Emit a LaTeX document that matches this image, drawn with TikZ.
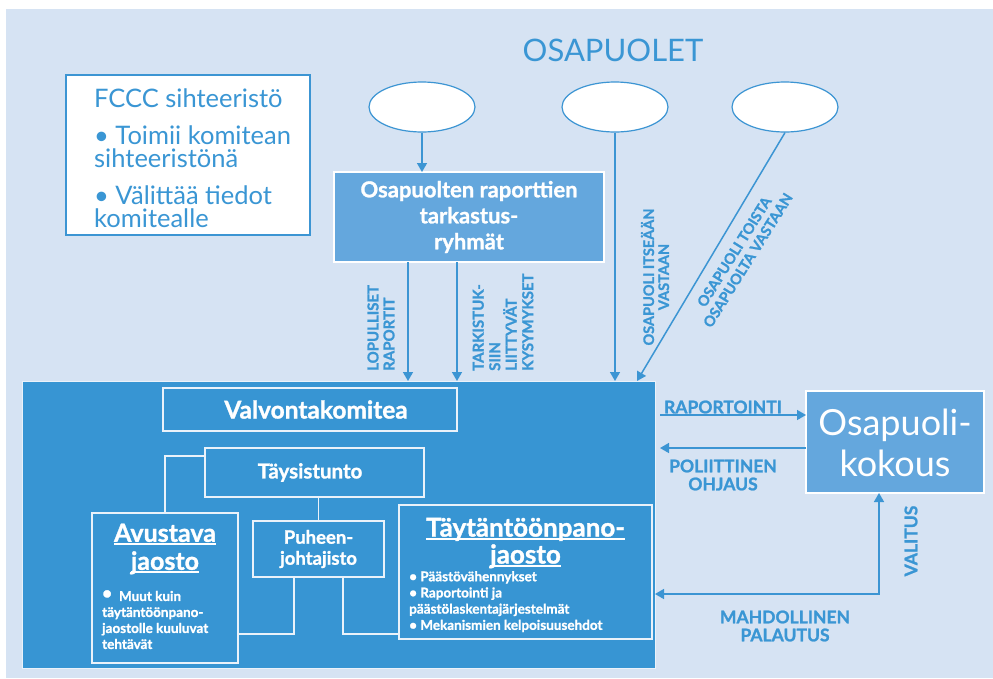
\documentclass[tikz,border=0pt]{standalone}
\usepackage{fontspec}
\setmainfont{Lato}[BoldFeatures={FakeBold=1.2}]
\usetikzlibrary{arrows.meta,shapes.geometric}
\definecolor{bgblue}{HTML}{D6E3F3}
\definecolor{deepblue}{HTML}{3795D3}
\definecolor{midblue}{HTML}{64A7DD}
\definecolor{inkblue}{HTML}{3A96D4}
\definecolor{lineblue}{HTML}{3C95D3}
\definecolor{paleline}{HTML}{EAF2FA}
% underline with a heavier rule
\newcommand\ulbox[1]{\setbox0\hbox{#1}\rlap{\rule[-3pt]{\wd0}{1.5pt}}\box0}
\newcommand\fs[2]{\fontsize{#1}{#2}\selectfont}
\begin{document}
\begin{tikzpicture}[x=1pt,y=-1pt,
  conn/.style={draw=lineblue, line width=1.5pt},
  arr/.style={conn, -{Triangle[length=9pt,width=10pt]}},
  darr/.style={conn, {Triangle[length=9pt,width=10pt]}-{Triangle[length=9pt,width=10pt]}},
  wline/.style={draw=paleline, line width=1.2pt},
  lbl/.style={text=inkblue, font=\bfseries\fs{15}{16}, inner sep=0pt},
  innerbox/.style={draw=paleline, line width=1.2pt, fill=deepblue, inner sep=0pt, outer sep=0pt},
  litebox/.style={draw=white, line width=1.2pt, fill=midblue, inner sep=0pt, outer sep=0pt},
  party/.style={ellipse, draw=lineblue, line width=1.2pt, fill=white, minimum width=106pt, minimum height=50pt, inner sep=0pt},
  wtext/.style={text=white, inner sep=0pt, align=center}
]
\useasboundingbox (0,0) rectangle (993,678);
\fill[bgblue] (6,9) rectangle (993,678);

% secretariat box
\node[draw=lineblue, line width=1.2pt, fill=white, minimum width=244pt, minimum height=160pt, inner sep=0pt] (fccc) at (188,155) {};
\node[text=inkblue, anchor=north west, align=left, inner sep=0pt, font=\fs{25.5}{23}] (fccctxt) at (94,89)
  {FCCC sihteeristö\\[14pt]• Toimii komitean\\sihteeristönä\\[14pt]• Välittää tiedot\\komitealle};

% parties
\node[text=inkblue, font=\fs{31}{31}, inner sep=0pt] (osap) at (613,50) {OSAPUOLET};
\node[party] (e1) at (422,107) {};
\node[party] (e2) at (615,107) {};
\node[party] (e3) at (785,107) {};

% review teams
\node[litebox, minimum width=270pt, minimum height=90pt] (tark) at (469,217) {};
\node[wtext, font=\bfseries\fs{22}{26}] (tarktxt) at (469,217) {Osapuolten raporttien\\tarkastus-\\ryhmät};

% compliance committee
\node[draw=paleline, line width=1pt, fill=deepblue, minimum width=633pt, minimum height=287pt, inner sep=0pt, outer sep=0pt] (big) at (338.5,524.5) {};
\node[innerbox, minimum width=294pt, minimum height=43pt] (valv) at (310,409.5) {};
\node[wtext, font=\bfseries\fs{24.5}{24}] (valvtxt) at (316,409.5) {Valvontakomitea};
\node[innerbox, minimum width=219pt, minimum height=49pt] (tays) at (314.5,472.5) {};
\node[wtext, font=\bfseries\fs{20.5}{20}] (taystxt) at (310,472.5) {Täysistunto};
\node[innerbox, minimum width=146pt, minimum height=150pt] (avus) at (165,588) {};
\node[wtext, font=\bfseries\fs{25}{28}] (avustit) at (165,549) {\ulbox{Avustava}\\\ulbox{jaosto}};
\node[text=white, anchor=north west, align=left, inner sep=0pt, font=\bfseries\fs{13.5}{16}] (avustxt) at (102,590)
  {\raisebox{2pt}{\fs{17}{17}•}\hspace{7pt}Muut kuin\\täytäntöönpano-\\jaostolle kuuluvat\\tehtävät};
\node[innerbox, minimum width=131pt, minimum height=56pt] (puh) at (318.5,549) {};
\node[wtext, font=\bfseries\fs{18.5}{21}] (puhtxt) at (318.5,549) {Puheen-\\johtajisto};
\node[innerbox, minimum width=253pt, minimum height=134pt] (taet) at (525.5,572) {};
\node[wtext, font=\bfseries\fs{26}{27}] (taettit) at (525.5,543) {\ulbox{Täytäntöönpano-}\\\ulbox{jaosto}};
\node[text=white, anchor=north west, align=left, inner sep=0pt, font=\bfseries\fs{13.5}{16.2}] (taettxt) at (409,571)
  {• Päästövähennykset\\• Raportointi ja\\päästölaskentajärjestelmät\\• Mekanismien kelpoisuusehdot};

% conference of the parties
\node[litebox, minimum width=178pt, minimum height=102pt] (kok) at (895,442) {};
\node[wtext, font=\fs{36}{41}] (koktxt) at (895,443) {Osapuoli-\\kokous};

% internal links
\coordinate (tl) at (165,456);
\coordinate (pl) at (294,634);
\coordinate (pr) at (343,634);
\draw[wline] (tays.west |- tl) -- (tl) -- (avus.north -| tl);
\draw[wline] (puh.north |- tays.south) -- (puh.north);
\draw[wline] (puh.south -| pl) -- (pl) -- (pl -| avus.east);
\draw[wline] (puh.south -| pr) -- (pr) -- (pr -| taet.west);

% reporting flows
\coordinate (xl) at (408,0);
\coordinate (xr) at (457,0);
\coordinate (diagend) at (637,381);
\draw[arr] (e1.south) -- (e1.south |- tark.north);
\draw[arr] (tark.south -| xl) -- (big.north -| xl);
\draw[arr] (tark.south -| xr) -- (big.north -| xr);
\draw[arr] (e2.south) -- (e2.south |- big.north);
\draw[arr] (e3.south) -- (diagend);

\node[lbl, rotate=90, anchor=west, align=left] (lop) at (381,371) {LOPULLISET\\RAPORTIT};
\node[lbl, rotate=90, anchor=west, align=left, font=\bfseries\fs{15}{16.5}] (tarkq) at (503,371) {TARKISTUK-\\SIIN\\LIITTYVÄT\\KYSYMYKSET};
\node[lbl, rotate=90, align=center, font=\bfseries\fs{14.5}{15}] (itse) at (655,277) {OSAPUOLI ITSEÄÄN\\VASTAAN};
\node[lbl, rotate=58, align=center, font=\bfseries\fs{14.5}{16}] (toista) at (741,256) {OSAPUOLI TOISTA\\OSAPUOLTA VASTAAN};

% links with the conference
\coordinate (rap) at (660,415);
\coordinate (pol) at (660,448);
\coordinate (val) at (879,594);
\draw[arr] (rap) -- (rap -| kok.west);
\draw[arr] (kok.west |- pol) -- (pol);
\draw[darr] (val -| big.east) -- (val) -- (val |- kok.south);

\node[lbl, font=\bfseries\fs{17.5}{17}] (raptxt) at (723,407) {RAPORTOINTI};
\node[lbl, align=center, font=\bfseries\fs{17.5}{18}] (poltxt) at (723,475) {POLIITTINEN\\OHJAUS};
\node[lbl, rotate=90, font=\bfseries\fs{17.5}{17}] (valtxt) at (911,541) {VALITUS};
\node[lbl, align=center, font=\bfseries\fs{17.5}{18}] (paltxt) at (785,626) {MAHDOLLINEN\\PALAUTUS};
\end{tikzpicture}
\end{document}
